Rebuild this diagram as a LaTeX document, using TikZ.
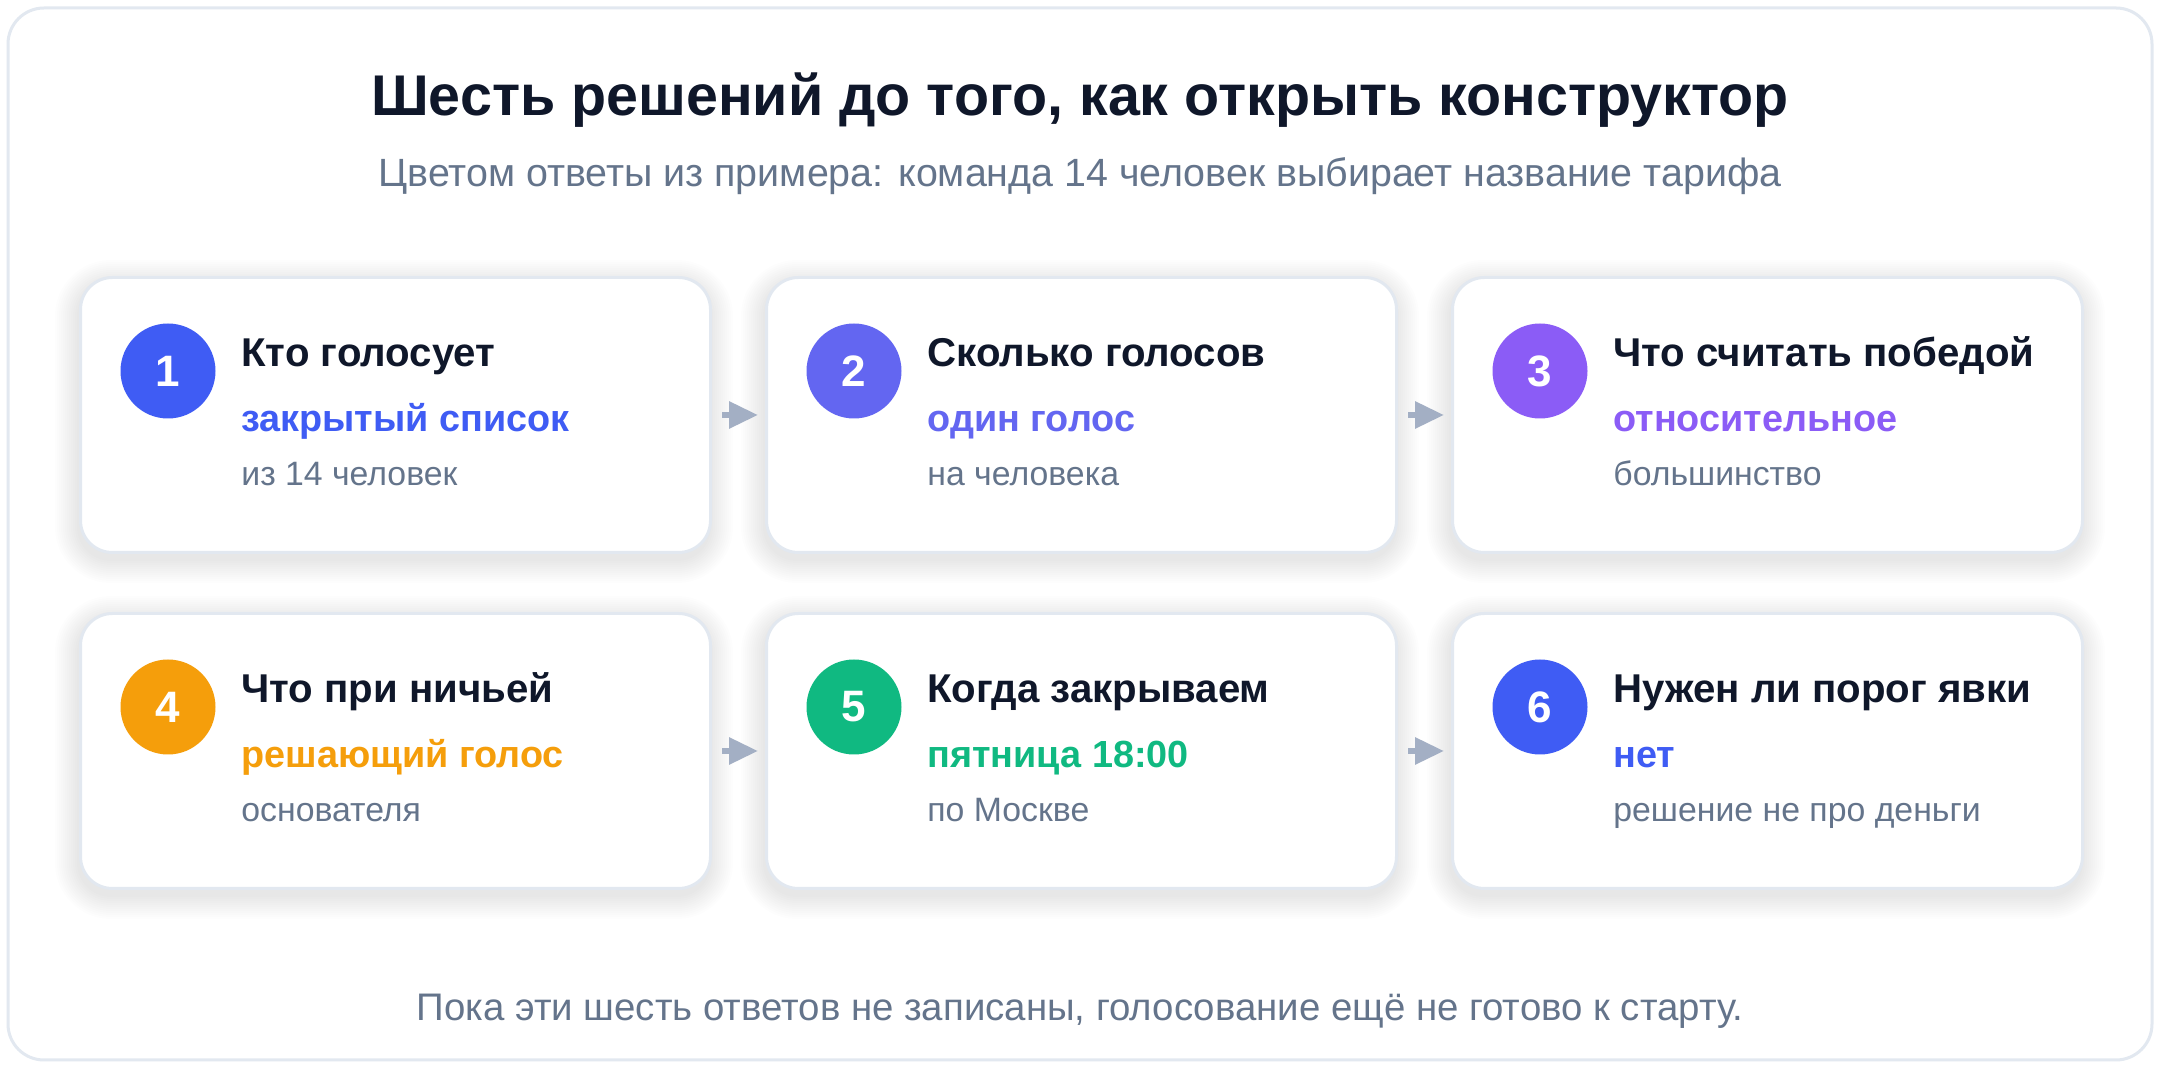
\documentclass[tikz,border=0pt]{standalone}
\usepackage{fontspec}
\setmainfont{Liberation Sans}
\usetikzlibrary{arrows.meta,calc}
\definecolor{ink}{HTML}{0F172A}
\definecolor{muted}{HTML}{64748B}
\definecolor{edgec}{HTML}{E2E8F0}
\definecolor{cblue}{HTML}{3F5CF4}
\definecolor{cindigo}{HTML}{6366F1}
\definecolor{cviolet}{HTML}{8B5CF6}
\definecolor{camber}{HTML}{F59E0B}
\definecolor{cgreen}{HTML}{10B981}
\definecolor{arrowc}{HTML}{A3AFC4}
\newcommand\stepcard[8]{%
  \foreach \s in {2,4,...,24} {
    \fill[softshade, rounded corners=16pt+0.5pt*\s]
      ($(#2,#3)+(-\s,-\s+8)$) rectangle ($(#2,#3)+(630+\s,275+\s+8)$);
  }
  \node[card, anchor=north west] (#1) at (#2,#3) {};
  \node[badge, fill=#5] (#1b) at ($(#1.north west)+(89,95)$) {#4};
  \node[head] (#1h) at ($(#1.north west)+(162,91)$) {#6};
  \node[answer, text=#5] (#1a) at ($(#1.north west)+(162,156)$) {#7};
  \node[note] (#1n) at ($(#1.north west)+(162,210)$) {#8};
}
\begin{document}
\begin{tikzpicture}[x=0.5pt,y=-0.5pt,
  softshade/.style={fill=black, fill opacity=0.0065},
  card/.style={draw=edgec, line width=1.5pt, fill=white, rounded corners=16pt,
    minimum width=315pt, minimum height=137.5pt, inner sep=0pt},
  badge/.style={circle, minimum size=47.5pt, inner sep=0pt, text=white,
    font=\bfseries\fontsize{22}{24}\selectfont},
  head/.style={anchor=base west, text=ink, inner sep=0pt, font=\bfseries\fontsize{20.1}{24}\selectfont},
  answer/.style={anchor=base west, inner sep=0pt, font=\bfseries\fontsize{18.9}{22}\selectfont},
  note/.style={anchor=base west, text=muted, inner sep=0pt, font=\fontsize{16.9}{20}\selectfont},
  flow/.style={draw=arrowc, line width=3pt, -{Triangle[length=14.5pt,width=13pt]},
    shorten <=5pt, shorten >=3.5pt},
  frame/.style={draw=edgec, line width=1.5pt, fill=white, rounded corners=18pt}
]
\useasboundingbox[fill=white] (0,0) rectangle (2160,1068);
\path[frame] (8,8) rectangle (2152,1060);

\node[anchor=base, text=ink, inner sep=0pt, font=\bfseries\fontsize{28.7}{34}\selectfont] (title) at (1080,116)
  {Шесть решений до того, как открыть конструктор};
\node[anchor=base, text=muted, inner sep=0pt, font=\fontsize{19.7}{24}\selectfont] (subtitle) at (1080,187)
  {Цветом ответы из примера: команда 14 человек выбирает название тарифа};

\stepcard{c1}{79}{276}{1}{cblue}{Кто голосует}{закрытый список}{из 14 человек}
\stepcard{c2}{765}{276}{2}{cindigo}{Сколько голосов}{один голос}{на человека}
\stepcard{c3}{1451}{276}{3}{cviolet}{Что считать победой}{относительное}{большинство}
\stepcard{c4}{79}{612}{4}{camber}{Что при ничьей}{решающий голос}{основателя}
\stepcard{c5}{765}{612}{5}{cgreen}{Когда закрываем}{пятница 18:00}{по Москве}
\stepcard{c6}{1451}{612}{6}{cblue}{Нужен ли порог явки}{нет}{решение не про деньги}

\draw[flow] (c1.east) -- (c2.west);
\draw[flow] (c2.east) -- (c3.west);
\draw[flow] (c4.east) -- (c5.west);
\draw[flow] (c5.east) -- (c6.west);

\node[anchor=base, text=muted, inner sep=0pt, font=\fontsize{19.2}{23}\selectfont] (footer) at (1080,1021)
  {Пока эти шесть ответов не записаны, голосование ещё не готово к старту.};
\end{tikzpicture}
\end{document}
